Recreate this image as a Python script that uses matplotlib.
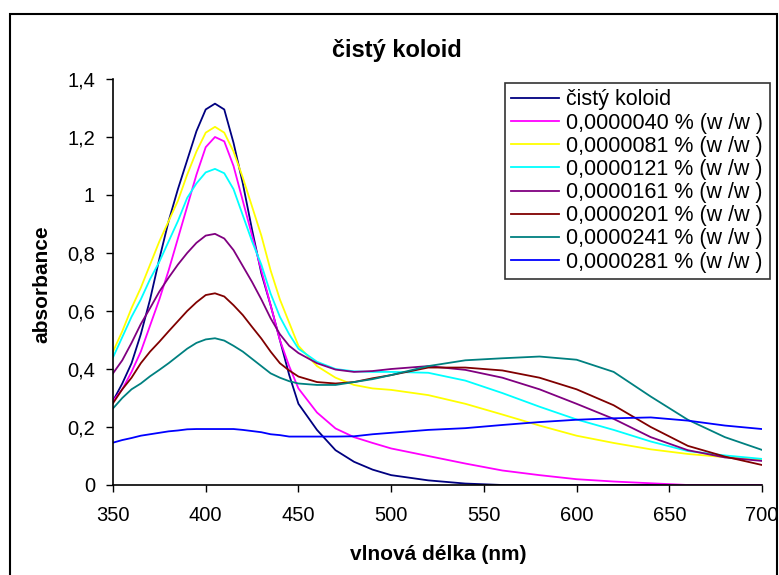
import matplotlib
matplotlib.use("Agg")
import matplotlib.pyplot as plt
from matplotlib.patches import Rectangle

plt.rcParams['font.family'] = ['Liberation Sans', 'DejaVu Sans']

# wavelength grid (nm)
wl = [350, 355, 360, 365, 370, 375, 380, 385, 390, 395, 400, 405, 410, 415,
      420, 425, 430, 435, 440, 445, 450, 460, 470, 480, 490, 500, 520, 540,
      560, 580, 600, 620, 640, 660, 680, 700]

# absorbance
cisty = [0.29, 0.35, 0.42, 0.52, 0.64, 0.78, 0.91, 1.02, 1.12, 1.22, 1.295, 1.315, 1.295, 1.18,
         1.04, 0.88, 0.73, 0.62, 0.50, 0.38, 0.28, 0.19, 0.12, 0.08, 0.053, 0.034, 0.016, 0.005,
         0.0, 0.0, 0.0, 0.0, 0.0, 0.0, 0.0, 0.0]
c040 = [0.29, 0.33, 0.39, 0.46, 0.55, 0.64, 0.74, 0.85, 0.96, 1.07, 1.165, 1.20, 1.185, 1.10,
        0.98, 0.86, 0.74, 0.62, 0.50, 0.41, 0.333, 0.25, 0.195, 0.165, 0.145, 0.126, 0.10, 0.074,
        0.05, 0.034, 0.02, 0.012, 0.006, 0.0, 0.0, 0.0]
c081 = [0.46, 0.53, 0.61, 0.68, 0.76, 0.84, 0.91, 0.98, 1.07, 1.15, 1.215, 1.235, 1.215, 1.15,
        1.06, 0.96, 0.86, 0.74, 0.64, 0.56, 0.48, 0.41, 0.37, 0.345, 0.333, 0.328, 0.31, 0.28,
        0.243, 0.205, 0.17, 0.145, 0.123, 0.107, 0.096, 0.086]
c121 = [0.44, 0.51, 0.58, 0.64, 0.71, 0.77, 0.84, 0.91, 0.99, 1.04, 1.078, 1.09, 1.075, 1.02,
        0.93, 0.84, 0.76, 0.66, 0.58, 0.52, 0.47, 0.425, 0.40, 0.392, 0.39, 0.39, 0.387, 0.36,
        0.317, 0.27, 0.226, 0.19, 0.15, 0.117, 0.102, 0.09]
c161 = [0.385, 0.43, 0.49, 0.555, 0.61, 0.667, 0.715, 0.76, 0.80, 0.835, 0.86, 0.866, 0.85, 0.81,
        0.755, 0.70, 0.64, 0.575, 0.52, 0.48, 0.455, 0.42, 0.398, 0.39, 0.393, 0.40, 0.41, 0.397,
        0.37, 0.33, 0.28, 0.228, 0.165, 0.12, 0.095, 0.083]
c201 = [0.282, 0.33, 0.37, 0.42, 0.46, 0.494, 0.53, 0.565, 0.60, 0.63, 0.655, 0.661, 0.65, 0.62,
        0.586, 0.545, 0.505, 0.46, 0.42, 0.395, 0.374, 0.355, 0.35, 0.355, 0.368, 0.379, 0.405, 0.405,
        0.395, 0.37, 0.33, 0.275, 0.20, 0.135, 0.098, 0.069]
c241 = [0.264, 0.30, 0.33, 0.35, 0.375, 0.397, 0.42, 0.445, 0.47, 0.49, 0.502, 0.506, 0.498, 0.48,
        0.46, 0.435, 0.41, 0.385, 0.37, 0.358, 0.35, 0.345, 0.345, 0.355, 0.365, 0.379, 0.41, 0.43,
        0.437, 0.443, 0.432, 0.39, 0.305, 0.225, 0.165, 0.121]
c281 = [0.146, 0.155, 0.162, 0.17, 0.175, 0.18, 0.185, 0.188, 0.192, 0.193, 0.193, 0.193, 0.193, 0.193,
        0.19, 0.186, 0.182, 0.175, 0.172, 0.167, 0.167, 0.167, 0.167, 0.168, 0.175, 0.18, 0.19, 0.196,
        0.207, 0.217, 0.225, 0.23, 0.233, 0.222, 0.205, 0.193]

series = [cisty, c040, c081, c121, c161, c201, c241, c281]
labels = ["čistý koloid", "0,0000040 % (w /w )", "0,0000081 % (w /w )", "0,0000121 % (w /w )",
          "0,0000161 % (w /w )", "0,0000201 % (w /w )", "0,0000241 % (w /w )", "0,0000281 % (w /w )"]
colors = ["#000080", "#FF00FF", "#FFFF00", "#00FFFF", "#800080", "#800000", "#008080", "#0000FF"]

xticks = [350, 400, 450, 500, 550, 600, 650, 700]
yticks = [0, 0.2, 0.4, 0.6, 0.8, 1.0, 1.2, 1.4]
ytick_labels = ["0", "0,2", "0,4", "0,6", "0,8", "1", "1,2", "1,4"]

fig = plt.figure(figsize=(7.79, 5.75), dpi=100)
ax = fig.add_axes([113/779, 90/575, 649/779, 406/575])

for y, lab, col in zip(series, labels, colors):
    ax.plot(wl, y, color=col, lw=1.3, label=lab)

ax.set_xlim(350, 700)
ax.set_ylim(0, 1.4)
ax.set_xticks(xticks)
ax.set_xticklabels([str(t) for t in xticks])
ax.set_yticks(yticks)
ax.set_yticklabels(ytick_labels)
ax.tick_params(axis='both', labelsize=14.5, length=5, width=1, direction='out')
ax.tick_params(axis='x', pad=10)
ax.tick_params(axis='y', pad=8)
for s in ['top', 'right']:
    ax.spines[s].set_visible(False)
for s in ['left', 'bottom']:
    ax.spines[s].set_linewidth(1.2)

fig.text(0.51, 0.912, "čistý koloid", ha='center', va='center', fontsize=17, fontweight='bold')
fig.text(42/779, 0.506, "absorbance", ha='center', va='center', rotation=90,
         fontsize=15, fontweight='bold')
fig.text(438/779, 0.035, "vlnová délka (nm)", ha='center', va='center',
         fontsize=15, fontweight='bold')

leg = fig.legend(loc='upper left', bbox_to_anchor=(505/779, 1 - 83/575), fontsize=15.5,
                 frameon=True, fancybox=False, handlelength=2.2, handletextpad=0.35,
                 labelspacing=0.1, borderpad=0.3, borderaxespad=0)
leg.get_frame().set_edgecolor('black')
leg.get_frame().set_linewidth(1.2)

# chart area border
fig.patches.append(Rectangle((10/779, -0.05), 767/779, 1.05 - 14/575, transform=fig.transFigure,
                             fill=False, edgecolor='black', lw=1.5))

fig.savefig("out.png", dpi=100)
